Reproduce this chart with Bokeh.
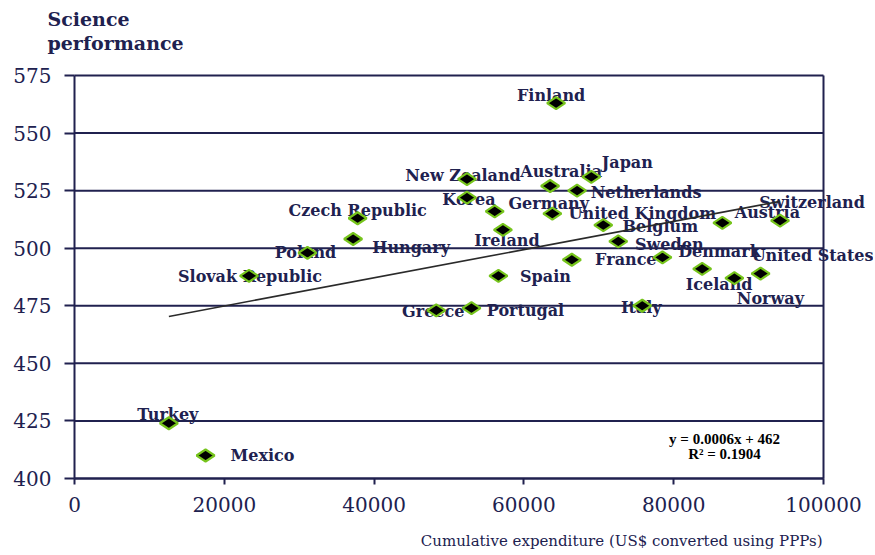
import numpy as np
from bokeh.plotting import figure
from bokeh.models import ColumnDataSource, Range1d, FixedTicker, Label, NumeralTickFormatter
from bokeh.core.properties import value
from bokeh.embed import file_html
from bokeh.resources import INLINE

# ---- data ----
countries = ["Finland", "Japan", "New Zealand", "Australia", "Netherlands", "Korea",
             "Germany", "United Kingdom", "Czech Republic", "Switzerland", "Austria",
             "Belgium", "Ireland", "Hungary", "Sweden", "Poland", "Denmark", "France",
             "Iceland", "United States", "Slovak Republic", "Spain", "Norway", "Italy",
             "Portugal", "Greece", "Turkey", "Mexico"]
expenditure = [64300, 69000, 52400, 63500, 67100, 52400,
               56100, 63800, 37800, 94200, 86500,
               70600, 57200, 37200, 72600, 31100, 78500, 66400,
               83800, 91600, 23300, 56600, 88100, 75800,
               53000, 48300, 12600, 17500]
science = [563, 531, 530, 527, 525, 522,
           516, 515, 513, 512, 511,
           510, 508, 504, 503, 498, 496, 495,
           491, 489, 488, 488, 487, 475,
           474, 473, 424, 410]
y_ticks = [400, 425, 450, 475, 500, 525, 550, 575]
x_ticks = [0, 20000, 40000, 60000, 80000, 100000]
y_title = ["Science", "performance"]
x_title = "Cumulative expenditure (US$ converted using PPPs)"
equation_text = "y = 0.0006x + 462"
r2_text = "R\u00b2 = 0.1904"

# ---- layout / style (label offsets in screen pixels) ----
label_dx = [-5, 36, -4, 11, 69, 2, 54, 90, 0, 32, 45, 57, 4, 58, 51, -2, 57, 54,
            17, 52, 1, 47, 36, -1, 54, -3, -1, 57]
label_dy = [-8, -14, -4, -15, 2, 2, -8, 0, -8, -18, -10, 1, 11, 8, 3, 0, -6, 0,
            16, -18, 1, 1, 20, 2, 2, 1, -9, 0]

NAVY = "#20214f"
FONT = "DejaVu Serif"
W, H = 873, 553
# pixel box of the axes inside the canvas
AX_L, AX_R, AX_T, AX_B = 74, 823, 75, 478
xs = (x_ticks[-1] - x_ticks[0]) / (AX_R - AX_L)
ys = (y_ticks[-1] - y_ticks[0]) / (AX_B - AX_T)
x_start = x_ticks[0] - AX_L * xs
x_end = x_start + W * xs
y_start = y_ticks[0] - (H - AX_B) * ys
y_end = y_start + H * ys

p = figure(width=W, height=H, output_backend="svg", toolbar_location=None,
           x_range=Range1d(x_start, x_end), y_range=Range1d(y_start, y_end),
           min_border_left=0, min_border_right=0, min_border_top=0, min_border_bottom=0)
p.background_fill_color = "white"
p.border_fill_color = "white"
p.outline_line_color = None
p.xgrid.visible = False
p.ygrid.visible = False

p.yaxis.ticker = FixedTicker(ticks=y_ticks)
p.xaxis.ticker = FixedTicker(ticks=x_ticks)
p.xaxis.bounds = (x_ticks[0], x_ticks[-1])
p.yaxis.bounds = (y_ticks[0], y_ticks[-1])
p.xaxis.fixed_location = y_ticks[0]
p.yaxis.fixed_location = x_ticks[0]
p.xaxis.formatter = NumeralTickFormatter(format="0")
for ax in (p.xaxis, p.yaxis):
    ax.axis_line_color = NAVY
    ax.axis_line_width = 2
    ax.major_tick_line_color = NAVY
    ax.major_tick_line_width = 2
    ax.minor_tick_line_color = None
    ax.major_tick_in = 0
    ax.major_label_text_font = FONT
    ax.major_label_text_font_size = "20px"
    ax.major_label_text_color = NAVY
p.yaxis.major_tick_out = 10
p.yaxis.major_label_standoff = 13
p.xaxis.major_tick_out = 6
p.xaxis.major_label_standoff = 12

# horizontal gridlines stopping at the right border, and the right border
p.segment(x0=[x_ticks[0]] * len(y_ticks), x1=[x_ticks[-1]] * len(y_ticks),
          y0=y_ticks, y1=y_ticks, line_color=NAVY, line_width=2)
p.segment(x0=[x_ticks[-1]], x1=[x_ticks[-1]], y0=[y_ticks[0]], y1=[y_ticks[-1]],
          line_color=NAVY, line_width=2)

src = ColumnDataSource(dict(x=expenditure, y=science, name=countries,
                            dx=label_dx, dy=label_dy))

p.text(x="x", y="y", text="name", source=src, x_offset="dx", y_offset="dy",
       text_align="center", text_baseline="middle", text_font=value(FONT),
       text_font_style="bold", text_font_size="16px", text_color=NAVY)

# trend line (least squares fit of the data)
slope, intercept = np.polyfit(np.array(expenditure, float), np.array(science, float), 1)
tx = np.array([min(expenditure), max(expenditure)], float)
p.line(tx, slope * tx + intercept, line_color="#2a2a2a", line_width=1.6)

p.scatter(x="x", y="y", source=src, marker="diamond", angle=np.pi / 2, size=18,
          fill_color="black", line_color="#76c41c", line_width=2.2)

# axis titles (screen units measured from the canvas bottom-left)
for txt, yy in zip(y_title, (18, 42)):
    p.add_layout(Label(x=47, y=H - yy, x_units="screen", y_units="screen", text=txt,
                       text_font=FONT, text_font_style="bold", text_font_size="19px",
                       text_color=NAVY, text_baseline="middle"))
p.add_layout(Label(x=822, y=H - 540, x_units="screen", y_units="screen", text=x_title,
                   text_font=FONT, text_font_size="15px", text_color=NAVY,
                   text_align="right", text_baseline="middle"))

# regression equation
for txt, yy in ((equation_text, 438), (r2_text, 453)):
    p.add_layout(Label(x=724, y=H - yy, x_units="screen", y_units="screen", text=txt,
                       text_font="Liberation Serif", text_font_size="15px",
                       text_font_style="bold", text_color="black",
                       text_align="center", text_baseline="middle"))

open("out.html", "w").write(file_html(p, INLINE))
